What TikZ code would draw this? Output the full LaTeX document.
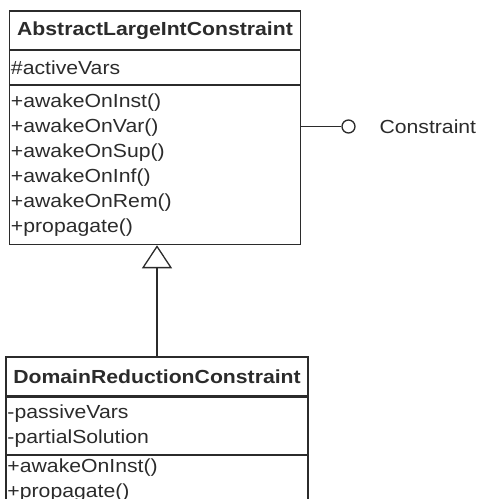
\documentclass[tikz,border=0pt]{standalone}
\usepackage{fontspec}
\setmainfont{Liberation Sans}[FakeStretch=1.12]
\usetikzlibrary{arrows.meta, positioning}
\definecolor{ink}{HTML}{2B2B2B}

\begin{document}
\begin{tikzpicture}[
  x=1bp, y=-1bp,
  node distance=0pt,
  every node/.style={text=ink, font=\fontsize{19}{25}\selectfont},
  cname/.style={draw=ink, line width=1.3bp, inner xsep=1.5bp, inner ysep=0pt, align=center, font=\fontsize{19}{25}\selectfont\bfseries},
  cpart/.style={draw=ink, line width=1.3bp, inner xsep=1.5bp, inner ysep=0pt, align=left},
  gen/.style={-{Triangle[open, length=23bp, width=30bp]}, line width=1.3bp, draw=ink},
  lolly/.style={circle, draw=ink, line width=1.3bp, fill=white, minimum size=13bp, inner sep=0pt}
]
  \useasboundingbox (0,0) rectangle (478,499);

  % abstract class
  \node[cname, text width=288bp, minimum height=38.5bp] (aname) at (155,30.25) {AbstractLargeIntConstraint};
  \node[cpart, text width=288bp, minimum height=33.5bp, below=of aname] (aattr) {\#activeVars};
  \node[cpart, text width=288bp, minimum height=159bp, below=of aattr] (amethods)
    {+awakeOnInst()\\+awakeOnVar()\\+awakeOnSup()\\+awakeOnInf()\\+awakeOnRem()\\+propagate()};

  % provided interface
  \node[lolly] (iface) at (348.5,126.5) {};
  \node[anchor=west] (iname) at (376,126.5) {Constraint};
  \draw[ink, line width=1.3bp] (iface) -- (iface -| amethods.east);

  % subclass
  \node[cname, text width=299bp, minimum height=39bp, below=111bp of amethods, xshift=2bp] (dname) {DomainReductionConstraint};
  \node[cpart, text width=299bp, minimum height=57bp, below=of dname] (dattr) {-passiveVars\\-partialSolution};
  \node[cpart, text width=299bp, minimum height=50bp, below=of dattr] (dmethods) {+awakeOnInst()\\+propagate()};

  \draw[gen] (dname.north) -- (dname.north |- amethods.south);
\end{tikzpicture}
\end{document}
